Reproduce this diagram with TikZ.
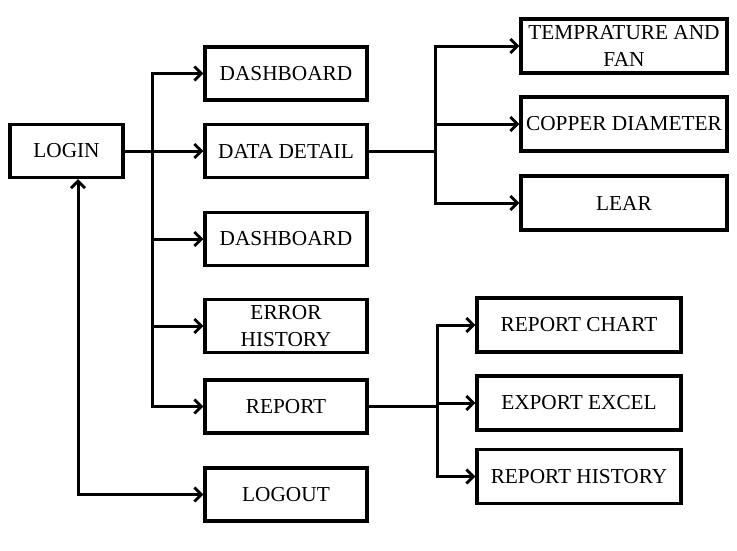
\documentclass[tikz,border=0pt]{standalone}
\usepackage{fontspec}
\setmainfont{Liberation Serif}
\usetikzlibrary{arrows.meta}
\begin{document}
\begin{tikzpicture}[x=1pt,y=-1pt,
  box/.style={draw,line width=3.2pt,inner sep=0pt,align=center,
    font=\fontsize{21.3}{26.5}\selectfont,text=black},
  conn/.style={line width=3pt,-{Straight Barb[length=7pt,width=14pt,line width=2.8pt]}},
  plain/.style={line width=3pt}]
\useasboundingbox (0,0) rectangle (737,550);
% left column
\node[box,minimum width=113pt,minimum height=53pt] (login) at (66.5,151) {LOGIN};
\node[box,minimum width=162pt,minimum height=53pt] (dash1) at (286,73.5) {DASHBOARD};
\node[box,minimum width=162pt,minimum height=53pt] (data) at (286,151) {DATA DETAIL};
\node[box,minimum width=162pt,minimum height=53pt] (dash2) at (286,239) {DASHBOARD};
\node[box,minimum width=162pt,minimum height=53pt] (err) at (286,326) {ERROR\\HISTORY};
\node[box,minimum width=162pt,minimum height=53pt] (rep) at (286,406.5) {REPORT};
\node[box,minimum width=162pt,minimum height=53pt] (logout) at (286,494.5) {LOGOUT};
% data detail children
\node[box,minimum width=206pt,minimum height=54pt] (temp) at (624,46) {TEMPRATURE AND\\FAN};
\node[box,minimum width=206pt,minimum height=54pt] (copper) at (624,124) {COPPER DIAMETER};
\node[box,minimum width=206pt,minimum height=54pt] (lear) at (624,203) {LEAR};
% report children
\node[box,minimum width=204pt,minimum height=54pt] (rchart) at (579,325) {REPORT CHART};
\node[box,minimum width=204pt,minimum height=54pt] (rexcel) at (579,403) {EXPORT EXCEL};
\node[box,minimum width=204pt,minimum height=54pt] (rhist) at (579,476.5) {REPORT HISTORY};
% left bus
\coordinate (bus) at (152,151);
\draw[conn] (login.east) -- (data.west);
\draw[plain,line cap=rect] (bus |- dash1.west) -- (bus |- rep.west);
\draw[conn] (bus) |- (dash1.west);
\draw[conn] (bus) |- (dash2.west);
\draw[conn] (bus) |- (err.west);
\draw[conn] (bus) |- (rep.west);
% login <-> logout
\coordinate (lgx) at (78,177);
\draw[line width=3pt,{Straight Barb[length=7pt,width=14pt,line width=2.8pt]}-{Straight Barb[length=7pt,width=14pt,line width=2.8pt]}]
  (lgx |- login.south) |- (logout.west);
% data detail bus
\coordinate (busd) at (435,151);
\draw[plain] (data.east) -- (busd |- data.east);
\draw[plain,line cap=rect] (busd |- temp.west) -- (busd |- lear.west);
\draw[conn] (busd |- temp.west) -- (temp.west);
\draw[conn] (busd |- copper.west) -- (copper.west);
\draw[conn] (busd |- lear.west) -- (lear.west);
% report bus
\coordinate (busr) at (437,405);
\draw[plain] (rep.east) -- (busr |- rep.east);
\draw[plain,line cap=rect] (busr |- rchart.west) -- (busr |- rhist.west);
\draw[conn] (busr |- rchart.west) -- (rchart.west);
\draw[conn] (busr |- rexcel.west) -- (rexcel.west);
\draw[conn] (busr |- rhist.west) -- (rhist.west);
\end{tikzpicture}
\end{document}
